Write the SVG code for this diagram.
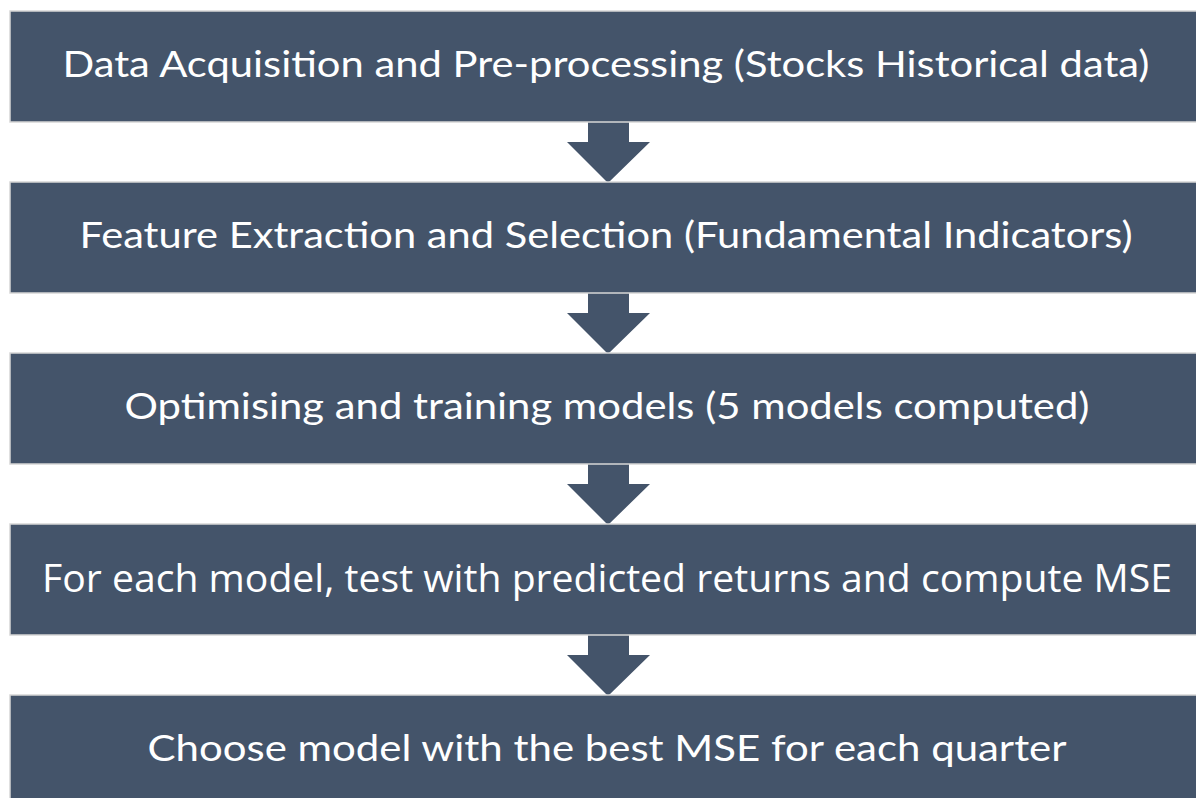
<svg xmlns="http://www.w3.org/2000/svg" width="1196" height="798" viewBox="0 0 1196 798">
  <style>
    .box { fill: #44546A; stroke: #D6D6D6; stroke-width: 1.5; }
    .label { fill: #FFFFFF; font-family: Lato, "Open Sans", "Liberation Sans", sans-serif; font-size: 37px; text-anchor: middle; }
    .label-alt { fill: #FFFFFF; font-family: "Open Sans", "Noto Sans", "Liberation Sans", sans-serif; font-size: 38px; text-anchor: middle; }
    .arrow { fill: #44546A; }
  </style>
  <rect width="1196" height="798" fill="#FFFFFF"/>

  <!-- connectors: block arrows between stages -->
  <g id="connectors">
    <polygon class="arrow" points="588,118 629,118 629,142 650,142 608,183 567,142 588,142"/>
    <polygon class="arrow" points="588,289 629,289 629,313 650,313 608,354 567,313 588,313"/>
    <polygon class="arrow" points="588,460 629,460 629,484 650,484 608,525 567,484 588,484"/>
    <polygon class="arrow" points="588,631 629,631 629,655 650,655 608,696 567,655 588,655"/>
  </g>

  <g id="stage1">
    <rect class="box" x="10" y="11" width="1200" height="111"/>
    <text class="label" x="606" y="77" textLength="1087" lengthAdjust="spacingAndGlyphs">Data Acquisition and Pre-processing (Stocks Historical data)</text>
  </g>

  <g id="stage2">
    <rect class="box" x="10" y="182" width="1200" height="111"/>
    <text class="label" x="606" y="248" textLength="1053" lengthAdjust="spacingAndGlyphs">Feature Extraction and Selection (Fundamental Indicators)</text>
  </g>

  <g id="stage3">
    <rect class="box" x="10" y="353" width="1200" height="111"/>
    <text class="label" x="607" y="419" textLength="965" lengthAdjust="spacingAndGlyphs">Optimising and training models (5 models computed)</text>
  </g>

  <g id="stage4">
    <rect class="box" x="10" y="524" width="1200" height="111"/>
    <text class="label-alt" x="607" y="592" textLength="1130" lengthAdjust="spacingAndGlyphs">For each model, test with predicted returns and compute MSE</text>
  </g>

  <g id="stage5">
    <rect class="box" x="10" y="695" width="1200" height="111"/>
    <text class="label" x="607" y="761" textLength="919" lengthAdjust="spacingAndGlyphs">Choose model with the best MSE for each quarter</text>
  </g>
</svg>
